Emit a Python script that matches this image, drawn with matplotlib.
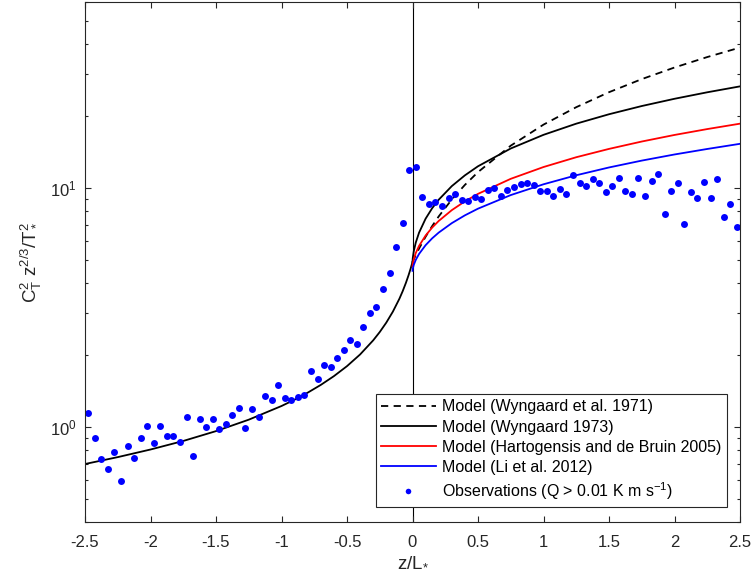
import matplotlib
matplotlib.use("Agg")
import matplotlib.pyplot as plt
import matplotlib.ticker as mticker
import numpy as np

# general plot parameters (MATLAB-like look)
plt.rcParams['font.family'] = ['Liberation Sans', 'DejaVu Sans']
plt.rcParams['mathtext.fontset'] = 'custom'
plt.rcParams['mathtext.rm'] = 'Liberation Sans'
plt.rcParams['mathtext.it'] = 'Liberation Sans'
plt.rcParams['axes.unicode_minus'] = False

AX_COLOR = '#262626'

# observations, bin centres in z/L*
obs_x = np.arange(-2.475, 2.5, 0.05)
obs_y = [1.149, 0.903, 0.735, 0.671, 0.789, 0.598, 0.830, 0.740, 0.900, 1.010,
         0.855, 1.013, 0.917, 0.914, 0.865, 1.105, 0.757, 1.084, 1.000, 1.077,
         0.985, 1.030, 1.123, 1.200, 0.994, 1.190, 1.105, 1.344, 1.300, 1.500,
         1.320, 1.300, 1.335, 1.360, 1.715, 1.588, 1.810, 1.780, 1.940, 2.100,
         2.310, 2.230, 2.610, 3.000, 3.170, 3.780, 4.400, 5.660, 7.160, 11.86,
         12.25, 9.140, 8.530, 8.740, 8.410, 9.060, 9.420, 8.910, 8.830, 9.140,
         9.020, 9.840, 10.00, 9.250, 9.840, 10.06, 10.33, 10.43, 10.30, 9.660,
         9.660, 9.240, 9.930, 9.460, 11.36, 10.45, 10.19, 10.94, 10.52, 9.620,
         10.16, 10.97, 9.720, 9.460, 11.00, 9.280, 10.70, 11.40, 7.750, 9.660,
         10.47, 7.050, 9.620, 9.070, 10.62, 9.110, 10.94, 7.580, 8.570, 6.880]

# model curves
unst_x = [-2.5, -2.25, -2.0, -1.75, -1.5, -1.25, -1.0, -0.9, -0.8, -0.7, -0.6, -0.5,
          -0.4, -0.3, -0.25, -0.2, -0.15, -0.1, -0.075, -0.05, -0.03, -0.015, 0.0]
w73_unst = [0.701, 0.749, 0.806, 0.875, 0.962, 1.074, 1.225, 1.302, 1.393, 1.501,
            1.633, 1.798, 2.012, 2.305, 2.497, 2.734, 3.037, 3.440, 3.699, 4.012,
            4.315, 4.584, 4.900]

st_x = [0.0, 0.002, 0.01, 0.025, 0.05, 0.1, 0.15, 0.2, 0.3, 0.4, 0.5, 0.75,
        1.0, 1.25, 1.5, 1.75, 2.0, 2.25, 2.5]
w73_st = [4.900, 5.087, 5.446, 5.905, 6.496, 7.433, 8.220, 8.922, 10.17, 11.28,
          12.31, 14.61, 16.66, 18.55, 20.31, 21.98, 23.57, 25.09, 26.56]
hdb05_st = [4.700, 4.819, 5.049, 5.343, 5.720, 6.320, 6.823, 7.272, 8.070, 8.782,
            9.438, 10.91, 12.22, 13.43, 14.55, 15.62, 16.64, 17.61, 18.55]
li12_st = [4.500, 4.593, 4.771, 5.000, 5.294, 5.760, 6.152, 6.501, 7.121, 7.676,
           8.186, 9.329, 10.35, 11.29, 12.17, 13.00, 13.79, 14.54, 15.28]

w71_x = [0.0, 0.05, 0.1, 0.15, 0.2, 0.3, 0.4, 0.5, 0.75, 1.0, 1.25, 1.5, 1.75,
         2.0, 2.25, 2.5]
w71_st = [4.900, 5.574, 6.248, 6.921, 7.595, 8.943, 10.29, 11.64, 15.01, 18.38,
          21.74, 25.11, 28.48, 31.85, 35.22, 38.59]

xtick_vals = [-2.5, -2, -1.5, -1, -0.5, 0, 0.5, 1, 1.5, 2, 2.5]
xtick_labels = ['-2.5', '-2', '-1.5', '-1', '-0.5', '0', '0.5', '1', '1.5', '2', '2.5']

fig = plt.figure(figsize=(7.54, 5.86), dpi=100)
ax = fig.add_axes([85 / 754, 63.7 / 586, 655 / 754, 520.6 / 586])

lw = 1.3
ax.axvline(0, color='k', lw=0.8, zorder=1)
ax.plot(w71_x, w71_st, '--', color='k', lw=lw, dashes=(4, 3),
        label='Model (Wyngaard et al. 1971)')
ax.plot(unst_x, w73_unst, '-', color='k', lw=lw, label='Model (Wyngaard 1973)')
ax.plot(st_x, w73_st, '-', color='k', lw=lw)
ax.plot(st_x, hdb05_st, '-', color='r', lw=lw,
        label='Model (Hartogensis and de Bruin 2005)')
ax.plot(st_x, li12_st, '-', color='b', lw=lw, label='Model (Li et al. 2012)')
ax.plot(obs_x, obs_y, 'o', color='b', ms=5, mew=0,
        label=r'Observations (Q > 0.01 K m s$^{\mathregular{-1}}$)')

ax.set_yscale('log')
ax.set_xlim(-2.5, 2.5)
ax.set_ylim(0.4, 60)
ax.set_xticks(xtick_vals)
ax.set_xticklabels(xtick_labels)
ax.yaxis.set_minor_formatter(mticker.NullFormatter())

for s in ax.spines.values():
    s.set_color(AX_COLOR)
    s.set_linewidth(0.8)
ax.tick_params(which='both', direction='in', top=True, right=True,
               color=AX_COLOR, labelcolor=AX_COLOR, width=0.8, labelsize=12)
ax.tick_params(which='major', length=4)
ax.tick_params(which='minor', length=2.5)
ax.tick_params(axis='x', pad=9)
ax.tick_params(axis='y', pad=6)

ax.set_xlabel(r'z/L$_{\mathregular{*}}$', fontsize=13.5, color=AX_COLOR, labelpad=2)
ax.set_ylabel(r'$\mathregular{C_T^2\ z^{2/3}/T_*^2}$', fontsize=13.5,
              color=AX_COLOR, labelpad=4)

leg = ax.legend(loc='lower right', bbox_to_anchor=(0.980, 0.029), fontsize=11.5,
                fancybox=False, framealpha=1, edgecolor=AX_COLOR,
                handlelength=3.4, handletextpad=0.4, labelspacing=0.32,
                borderpad=0.35, borderaxespad=0, markerscale=0.8)
leg.get_frame().set_linewidth(0.8)

fig.savefig('out.png', dpi=100)
